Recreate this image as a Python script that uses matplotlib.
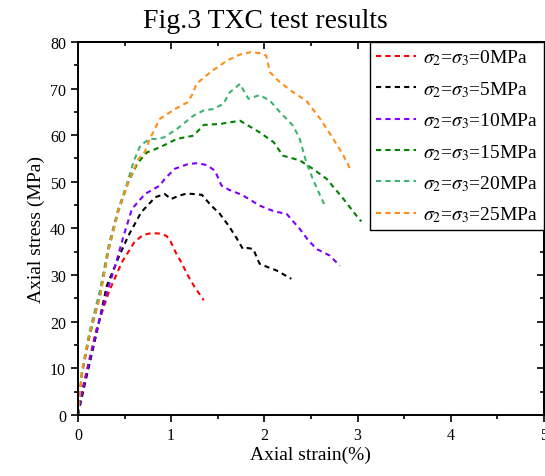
import matplotlib
matplotlib.use("Agg")
import matplotlib.pyplot as plt
from matplotlib.ticker import MultipleLocator

plt.rcParams['font.family'] = ['Liberation Serif', 'DejaVu Serif']
plt.rcParams['mathtext.fontset'] = 'stix'

labels = [r'$\sigma_2$=$\sigma_3$=0MPa', r'$\sigma_2$=$\sigma_3$=5MPa',
          r'$\sigma_2$=$\sigma_3$=10MPa', r'$\sigma_2$=$\sigma_3$=15MPa',
          r'$\sigma_2$=$\sigma_3$=20MPa', r'$\sigma_2$=$\sigma_3$=25MPa']
colors = ['#ff0000', '#000000', '#8000ff', '#008000', '#3cb371', '#ff8c1a']

x0 = [0.0, 0.06, 0.2, 0.33, 0.47, 0.61, 0.70, 0.79, 0.88, 0.95, 0.99, 1.05, 1.11, 1.18, 1.25, 1.35]
y0 = [0.0, 6.6, 18.5, 26.3, 32.7, 37.2, 38.6, 39.0, 38.9, 38.4, 37.4, 34.8, 32.7, 29.9, 27.5, 24.6]

x5 = [0.0, 0.05, 0.2, 0.31, 0.43, 0.54, 0.68, 0.83, 0.93, 1.0, 1.08, 1.17, 1.33, 1.43, 1.52, 1.62, 1.70, 1.77, 1.82, 1.88, 1.95, 2.05, 2.13, 2.29]
y5 = [0.0, 4.5, 17.5, 27.7, 33.5, 38.4, 43.5, 46.7, 47.4, 46.3, 47.0, 47.5, 47.2, 44.9, 43.2, 40.5, 38.0, 35.6, 35.8, 35.6, 32.4, 31.6, 31.0, 29.2]

x10 = [0.0, 0.03, 0.2, 0.31, 0.40, 0.49, 0.58, 0.72, 0.88, 0.93, 1.04, 1.18, 1.28, 1.38, 1.47, 1.54, 1.62, 1.76, 1.95, 2.10, 2.24, 2.38, 2.47, 2.56, 2.70, 2.81]
y10 = [0.0, 3.5, 18.0, 26.3, 32.0, 38.4, 44.2, 47.4, 49.2, 50.6, 52.8, 53.8, 54.0, 53.6, 52.4, 49.2, 48.3, 47.2, 44.9, 43.7, 43.1, 39.9, 37.5, 35.6, 34.2, 32.0]

x15 = [0.0, 0.04, 0.12, 0.24, 0.33, 0.43, 0.54, 0.64, 0.74, 0.88, 1.06, 1.24, 1.35, 1.52, 1.74, 1.95, 2.10, 2.20, 2.38, 2.52, 2.67, 2.85, 2.99, 3.04]
y15 = [0.0, 8.5, 16.5, 26.0, 35.6, 43.5, 49.9, 54.0, 56.3, 57.4, 59.2, 59.9, 62.2, 62.4, 63.1, 60.6, 58.5, 55.6, 54.6, 52.8, 50.6, 46.3, 42.7, 41.5]

x20 = [0.0, 0.04, 0.12, 0.24, 0.33, 0.43, 0.52, 0.60, 0.67, 0.77, 0.84, 0.92, 1.06, 1.24, 1.35, 1.45, 1.56, 1.63, 1.74, 1.78, 1.83, 1.95, 2.06, 2.17, 2.31, 2.38, 2.45, 2.52, 2.60, 2.65]
y20 = [0.0, 9.0, 17.5, 27.0, 36.5, 44.0, 49.2, 54.5, 57.8, 59.2, 59.2, 59.5, 61.3, 64.2, 65.3, 65.6, 66.7, 69.2, 71.0, 69.5, 67.8, 68.6, 67.4, 64.9, 62.0, 59.2, 54.2, 50.6, 47.0, 44.9]

x25 = [0.0, 0.04, 0.12, 0.24, 0.33, 0.43, 0.54, 0.65, 0.72, 0.77, 0.88, 1.04, 1.18, 1.24, 1.27, 1.42, 1.60, 1.74, 1.85, 1.95, 2.02, 2.06, 2.17, 2.31, 2.45, 2.60, 2.74, 2.85, 2.92]
y25 = [0.0, 9.0, 17.0, 25.6, 35.6, 43.5, 49.9, 54.9, 56.5, 59.2, 63.5, 65.6, 67.1, 69.2, 71.0, 73.5, 76.0, 77.3, 77.8, 77.6, 77.1, 73.5, 71.3, 69.2, 67.4, 63.5, 59.2, 55.6, 52.8]

xs = [x0, x5, x10, x15, x20, x25]
ys = [y0, y5, y10, y15, y20, y25]

fig = plt.figure(figsize=(5.45, 4.77), dpi=100)
ax = fig.add_axes([0.143, 0.128, 0.855, 0.782])

for x, y, c, lab in zip(xs, ys, colors, labels):
    ax.plot(x, y, color=c, lw=1.5, ls=(0, (2.5, 2.0)), label=lab)

ax.set_xlim(0, 5)
ax.set_ylim(0, 80)
ax.xaxis.set_major_locator(MultipleLocator(1))
ax.xaxis.set_minor_locator(MultipleLocator(0.5))
ax.yaxis.set_major_locator(MultipleLocator(10))
ax.yaxis.set_minor_locator(MultipleLocator(5))
ax.tick_params(axis='both', which='both', labelsize=11.5, width=1.2, direction='out')
ax.tick_params(axis='both', which='major', length=5)
ax.tick_params(axis='both', which='minor', length=3)

# mirrored ticks on top and right point inward
axt = ax.secondary_xaxis('top')
axt.xaxis.set_major_locator(MultipleLocator(1))
axt.xaxis.set_minor_locator(MultipleLocator(0.5))
axt.tick_params(which='both', direction='in', labeltop=False, width=1.2)
axt.tick_params(which='major', length=5)
axt.tick_params(which='minor', length=3)
axr = ax.secondary_yaxis('right')
axr.yaxis.set_major_locator(MultipleLocator(10))
axr.yaxis.set_minor_locator(MultipleLocator(5))
axr.tick_params(which='both', direction='in', labelright=False, width=1.2)
axr.tick_params(which='major', length=5)
axr.tick_params(which='minor', length=3)
for sp in ax.spines.values():
    sp.set_linewidth(1.4)
axt.spines['top'].set_linewidth(1.4)
axr.spines['right'].set_linewidth(1.4)

ax.set_xlabel('Axial strain(%)', fontsize=14, labelpad=2)
ax.set_ylabel('Axial stress (MPa)', fontsize=14, labelpad=4)

leg = ax.legend(loc='upper right', bbox_to_anchor=(1.0, 1.0), borderaxespad=0,
                fancybox=False, edgecolor='black', framealpha=1, fontsize=14,
                handlelength=2.1, handletextpad=0.35, labelspacing=0.6,
                borderpad=0.3)
leg.get_frame().set_linewidth(1.0)
leg.set_zorder(5)

fig.text(0.487, 0.955, 'Fig.3 TXC test results', ha='center', va='center', fontsize=20)

fig.savefig('out.png', dpi=100)
